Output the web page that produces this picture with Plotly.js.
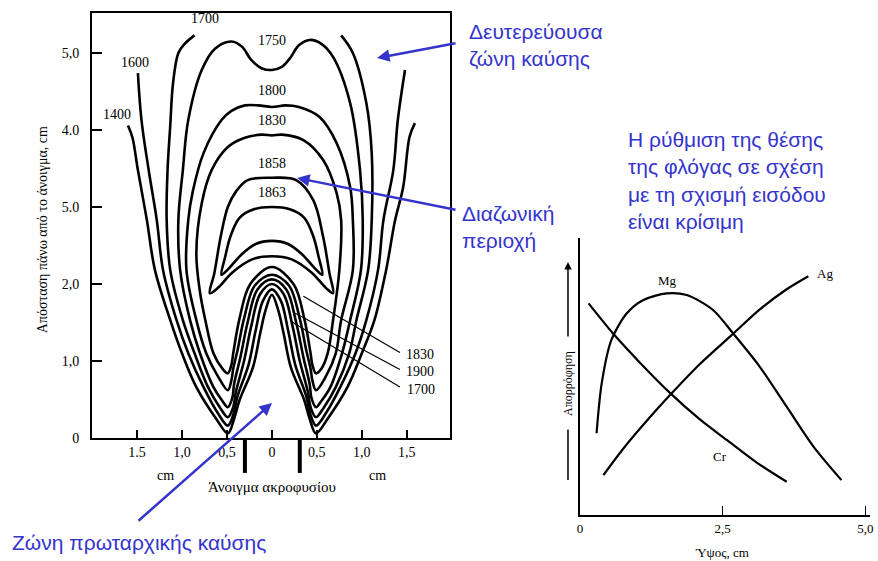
<!DOCTYPE html>
<html>
<head>
<meta charset="utf-8">
<script src="https://cdn.plot.ly/plotly-3.0.1.min.js"></script>
<style>html,body{margin:0;padding:0;background:#fff;}</style>
</head>
<body>
<div id="chart" style="width:878px;height:561px;"></div>
<script>
// ---------- Left chart: temperature contours (x: cm from slot centre, y: cm above slot) ----------
const c1400X = [-1.60,-1.55,-1.49,-1.39,-1.30,-1.13,-1.00,-0.84,-0.62,-0.49,-0.42,-0.36,-0.21,-0.13,-0.07,0,0.07,0.13,0.21,0.36,0.42,0.49,0.62,0.84,1.00,1.14,1.27,1.37,1.46,1.53,1.59];
const c1400Y = [4.06,3.90,3.48,2.83,2.18,1.53,1.10,0.66,0.25,0.06,0.25,0.49,0.92,1.36,1.66,1.86,1.66,1.36,0.92,0.49,0.25,0.06,0.25,0.66,1.10,1.53,2.18,2.83,3.26,3.91,4.09];

const c1600X = [-1.49,-1.45,-1.37,-1.28,-1.21,-1.06,-0.93,-0.76,-0.60,-0.49,-0.43,-0.38,-0.26,-0.18,-0.10,0,0.10,0.18,0.26,0.38,0.43,0.49,0.60,0.76,0.93,1.05,1.18,1.24,1.35,1.40,1.48];
const c1600Y = [4.74,4.13,3.48,2.83,2.18,1.53,1.10,0.66,0.32,0.16,0.30,0.55,0.95,1.40,1.78,1.93,1.78,1.40,0.95,0.55,0.30,0.16,0.32,0.66,1.10,1.53,2.18,2.83,3.48,4.13,4.78];

const c1700X = [-0.86,-0.97,-1.04,-1.10,-1.13,-1.16,-1.17,-1.13,-0.99,-0.86,-0.71,-0.58,-0.49,-0.43,-0.40,-0.31,-0.23,-0.13,0,0.13,0.23,0.31,0.40,0.43,0.49,0.58,0.71,0.86,0.94,1.07,1.11,1.11,1.05,0.90,0.77];
const c1700Y = [5.23,5.12,5.00,4.60,4.06,3.48,2.83,2.18,1.53,1.10,0.66,0.40,0.27,0.40,0.60,1.00,1.45,1.87,2.00,1.87,1.45,1.00,0.60,0.40,0.27,0.40,0.66,1.10,1.53,2.18,2.83,3.70,4.35,5.00,5.23];

const c1750X = [0,-0.11,-0.23,-0.33,-0.45,-0.63,-0.78,-0.93,-0.99,-1.04,-1.02,-0.91,-0.80,-0.65,-0.55,-0.49,-0.44,-0.42,-0.35,-0.27,-0.16,0,0.16,0.27,0.35,0.42,0.44,0.49,0.55,0.65,0.78,0.87,0.99,1.01,0.98,0.87,0.68,0.55,0.42,0.30,0.20,0.11,0];
const c1750Y = [4.78,4.80,4.91,5.08,5.15,5.06,4.78,4.13,3.48,2.83,2.18,1.53,1.10,0.66,0.48,0.40,0.52,0.70,1.05,1.50,1.93,2.06,1.93,1.50,1.05,0.70,0.52,0.40,0.48,0.66,1.10,1.53,2.18,2.83,3.48,4.35,4.95,5.12,5.17,5.10,4.93,4.82,4.78];

const c1800X = [0,-0.15,-0.30,-0.45,-0.56,-0.76,-0.88,-0.93,-0.95,-0.84,-0.73,-0.60,-0.49,-0.45,-0.43,-0.38,-0.31,-0.19,0,0.19,0.31,0.38,0.43,0.45,0.49,0.60,0.71,0.77,0.90,0.90,0.87,0.72,0.53,0.30,0.15,0];
const c1800Y = [4.30,4.32,4.32,4.25,4.13,3.70,3.20,2.83,2.18,1.53,1.10,0.80,0.62,0.75,0.90,1.15,1.55,1.98,2.12,1.98,1.55,1.15,0.90,0.75,0.62,0.80,1.10,1.53,2.18,2.83,3.26,3.83,4.17,4.30,4.32,4.30];

const c1830X = [0,-0.11,-0.30,-0.49,-0.67,-0.78,-0.84,-0.80,-0.74,-0.65,-0.55,-0.49,-0.45,-0.43,-0.36,-0.24,0,0.24,0.36,0.43,0.45,0.49,0.55,0.62,0.68,0.75,0.77,0.72,0.57,0.35,0.11,0];
const c1830Y = [3.93,3.94,3.90,3.78,3.48,3.05,2.40,1.90,1.53,1.10,0.90,0.84,0.95,1.10,1.55,2.00,2.22,2.00,1.55,1.10,0.95,0.84,0.90,1.10,1.53,2.18,2.83,3.18,3.61,3.87,3.94,3.93];

const c1858X = [0,-0.27,-0.40,-0.49,-0.57,-0.64,-0.69,-0.60,-0.44,-0.22,0,0.22,0.44,0.60,0.68,0.64,0.57,0.46,0.27,0];
const c1858Y = [3.38,3.35,3.20,3.00,2.61,2.14,1.88,1.95,2.15,2.32,2.36,2.32,2.15,1.95,1.88,2.14,2.61,3.09,3.35,3.38];

const c1863X = [0,-0.20,-0.36,-0.46,-0.52,-0.56,-0.48,-0.34,-0.18,0,0.18,0.34,0.48,0.56,0.52,0.46,0.36,0.20,0];
const c1863Y = [3.00,2.97,2.86,2.62,2.35,2.12,2.20,2.38,2.52,2.56,2.52,2.38,2.20,2.12,2.35,2.62,2.86,2.97,3.00];

const contourX = [c1400X, c1600X, c1700X, c1750X, c1800X, c1830X, c1858X, c1863X];
const contourY = [c1400Y, c1600Y, c1700Y, c1750Y, c1800Y, c1830Y, c1858Y, c1863Y];

// contour labels
const labelText = ['1400','1600','1700','1750','1800','1830','1858','1863'];
const labelX    = [-1.72, -1.52, -0.74, 0, 0, 0, 0, 0];
const labelY    = [4.20, 4.88, 5.45, 5.16, 4.52, 4.12, 3.57, 3.19];

// labels with leader lines (right side)
const leaderText = ['1830','1900','1700'];
const leaderLabX = [1.47, 1.47, 1.48];
const leaderLabY = [1.08, 0.86, 0.63];
const leaderFromX = [1.44, 1.44, 1.44];
const leaderFromY = [1.10, 0.88, 0.65];
const leaderToX = [0.35, 0.26, 0.22];
const leaderToY = [1.84, 1.62, 1.51];

// axis ticks
const xTickVals = [-1.5,-1.0,-0.5,0,0.5,1.0,1.5];
const xTickText = ['1.5','1,0','0,5','0','0,5','1,0','1,5'];
const yTickVals = [0,1,2,3,4,5];
const yTickText = ['0','1,0','2,0','5.0','4.0','5,0'];
const slotEdges = [-0.30, 0.31];

// ---------- Right chart: absorbance vs height ----------
const mgX = [0.29,0.38,0.55,0.82,1.11,1.52,1.87,2.33,2.68,3.15,3.62,4.09,4.58];
const mgY = [2.95,4.75,6.32,7.28,7.76,8.00,7.94,7.40,6.56,5.35,3.91,2.47,1.26];
const agX = [0.41,0.76,1.17,1.61,2.10,2.66,3.15,3.62,4.00];
const agY = [1.44,2.40,3.40,4.40,5.45,6.50,7.42,8.15,8.62];
const crX = [0.15,0.58,1.05,1.58,2.10,2.57,3.09,3.62];
const crY = [7.64,6.55,5.50,4.40,3.45,2.71,1.90,1.20];
const seriesNames = ['Mg','Ag','Cr'];
const seriesLabX = [1.54, 4.30, 2.45];
const seriesLabY = [8.45, 8.70, 2.10];
const x2TickVals = [0, 2.5, 5.0];
const x2TickText = ['0','2,5','5,0'];

// ---------- Build ----------
const serif = 'Liberation Serif, Times New Roman, serif';
const sans = 'Liberation Sans, Arial, sans-serif';
const blue = '#3434cc';

const traces = [];
for (let i = 0; i < contourX.length; i++) {
  traces.push({x: contourX[i], y: contourY[i], type: 'scatter', mode: 'lines',
    line: {color: '#000', width: 2.6, shape: 'spline', smoothing: 1},
    xaxis: 'x', yaxis: 'y', hoverinfo: 'skip'});
}
[[mgX, mgY], [agX, agY], [crX, crY]].forEach(function(s){
  traces.push({x: s[0], y: s[1], type: 'scatter', mode: 'lines',
    line: {color: '#000', width: 2.2, shape: 'spline', smoothing: 0.8},
    xaxis: 'x2', yaxis: 'y2', hoverinfo: 'skip'});
});

const annotations = [];
labelText.forEach(function(t, i){
  annotations.push({text: t, x: labelX[i], y: labelY[i], xref: 'x', yref: 'y', showarrow: false,
    font: {family: serif, size: 14, color: '#000'}});
});
leaderText.forEach(function(t, i){
  annotations.push({text: t, x: leaderLabX[i], y: leaderLabY[i], xref: 'x', yref: 'y', showarrow: false,
    xanchor: 'left', yanchor: 'middle', font: {family: serif, size: 14, color: '#000'}});
  annotations.push({text: '', x: leaderToX[i], y: leaderToY[i], xref: 'x', yref: 'y',
    ax: leaderFromX[i], ay: leaderFromY[i], axref: 'x', ayref: 'y', showarrow: true,
    arrowhead: 0, arrowwidth: 1.2, arrowcolor: '#000', standoff: 0, startstandoff: 0});
});
seriesNames.forEach(function(t, i){
  annotations.push({text: t, x: seriesLabX[i], y: seriesLabY[i], xref: 'x2', yref: 'y2', showarrow: false,
    yanchor: 'middle', font: {family: serif, size: 13, color: '#000'}});
});

// axis titles / decorations of the scanned figure
annotations.push({text: 'Απόσταση πάνω από το άνοιγμα, cm', x: 0.048, y: 0.59, xref: 'paper', yref: 'paper',
  textangle: -90, showarrow: false, xanchor: 'center', yanchor: 'middle',
  font: {family: serif, size: 14, color: '#000'}});
annotations.push({text: 'Άνοιγμα ακροφυσίου', x: 0.3098, y: 0.132, xref: 'paper', yref: 'paper',
  showarrow: false, xanchor: 'center', yanchor: 'middle', font: {family: serif, size: 15, color: '#000'}});
annotations.push({text: 'cm', x: 0.188, y: 0.153, xref: 'paper', yref: 'paper', showarrow: false,
  xanchor: 'center', yanchor: 'middle', font: {family: serif, size: 14, color: '#000'}});
annotations.push({text: 'cm', x: 0.4305, y: 0.153, xref: 'paper', yref: 'paper', showarrow: false,
  xanchor: 'center', yanchor: 'middle', font: {family: serif, size: 14, color: '#000'}});
annotations.push({text: 'Ύψος, cm', x: 0.8223, y: 0.0143, xref: 'paper', yref: 'paper', showarrow: false,
  xanchor: 'center', yanchor: 'middle', font: {family: serif, size: 13, color: '#000'}});
annotations.push({text: 'Απορρόφηση', x: 0.6469, y: 0.3173, xref: 'paper', yref: 'paper', textangle: -90,
  showarrow: false, xanchor: 'center', yanchor: 'middle', font: {family: serif, size: 12, color: '#000'}});
annotations.push({text: '', x: 0.6469, y: 0.533, xref: 'paper', yref: 'paper', ax: 0, ay: 76,
  showarrow: true, arrowhead: 2, arrowsize: 1, arrowwidth: 1.5, arrowcolor: '#000'});
annotations.push({text: '', x: 0.6469, y: 0.1444, xref: 'paper', yref: 'paper', ax: 0, ay: -52,
  showarrow: true, arrowhead: 0, arrowwidth: 1.5, arrowcolor: '#000'});

// blue explanatory texts
const blueFont = {family: sans, size: 21, color: blue};
annotations.push({text: 'Δευτερεύουσα<br>ζώνη καύσης', x: 0.5319, y: 0.9198, xref: 'paper', yref: 'paper',
  xanchor: 'left', yanchor: 'middle', align: 'left', showarrow: false, font: blueFont});
annotations.push({text: 'Διαζωνική<br>περιοχή', x: 0.5239, y: 0.5954, xref: 'paper', yref: 'paper',
  xanchor: 'left', yanchor: 'middle', align: 'left', showarrow: false, font: blueFont});
annotations.push({text: 'Ζώνη πρωταρχικής καύσης', x: 0.0114, y: 0.0321, xref: 'paper', yref: 'paper',
  xanchor: 'left', yanchor: 'middle', align: 'left', showarrow: false, font: blueFont});
annotations.push({text: 'Η ρύθμιση της θέσης<br>της φλόγας σε σχέση<br>με τη σχισμή εισόδου<br>είναι κρίσιμη',
  x: 0.713, y: 0.6783, xref: 'paper', yref: 'paper', xanchor: 'left', yanchor: 'middle', align: 'left',
  showarrow: false, font: blueFont});
// blue arrows
annotations.push({text: '', x: 0.4294, y: 0.8966, xref: 'paper', yref: 'paper', ax: 80, ay: -15,
  showarrow: true, arrowhead: 2, arrowsize: 1, arrowwidth: 2.5, arrowcolor: blue, standoff: 0});
annotations.push({text: '', x: 0.3383, y: 0.6827, xref: 'paper', yref: 'paper', ax: 160, ay: 32,
  showarrow: true, arrowhead: 2, arrowsize: 1, arrowwidth: 2.5, arrowcolor: blue, standoff: 0});
annotations.push({text: '', x: 0.3098, y: 0.2816, xref: 'paper', yref: 'paper', ax: -135, ay: 119,
  showarrow: true, arrowhead: 2, arrowsize: 1, arrowwidth: 2.5, arrowcolor: blue, standoff: 0});

const shapes = slotEdges.map(function(xv){
  return {type: 'line', xref: 'x', yref: 'paper', x0: xv, x1: xv, y0: 0.2193, y1: 0.157,
    line: {color: '#000', width: 4}};
});

const tickFont = {family: serif, size: 14, color: '#000'};
const layout = {
  width: 878, height: 561,
  margin: {l: 0, r: 0, t: 0, b: 0},
  paper_bgcolor: '#fff', plot_bgcolor: '#fff',
  showlegend: false,
  xaxis: {domain: [0.1048, 0.5125], range: [-2, 1.98], anchor: 'y',
    tickvals: xTickVals, ticktext: xTickText, ticks: 'inside', ticklen: 8, tickwidth: 2, tickcolor: '#000',
    showline: true, linewidth: 2, linecolor: '#000', mirror: true, showgrid: false, zeroline: false,
    tickfont: tickFont, ticklabelstandoff: 0},
  yaxis: {domain: [0.2193, 0.9768], range: [0, 5.52], anchor: 'x',
    tickvals: yTickVals, ticktext: yTickText, ticks: 'inside', ticklen: 10, tickwidth: 2, tickcolor: '#000',
    showline: true, linewidth: 2, linecolor: '#000', mirror: true, showgrid: false, zeroline: false,
    tickfont: tickFont, ticklabelstandoff: 8},
  xaxis2: {domain: [0.6606, 0.9909], range: [0, 5.08], anchor: 'y2',
    tickvals: x2TickVals, ticktext: x2TickText, ticks: 'inside', ticklen: 9, tickwidth: 1.5, tickcolor: '#000',
    showline: true, linewidth: 2, linecolor: '#000', showgrid: false, zeroline: false,
    tickfont: {family: serif, size: 13, color: '#000'}},
  yaxis2: {domain: [0.082, 0.5758], range: [0, 10], anchor: 'x2',
    showticklabels: false, ticks: '', showline: true, linewidth: 2, linecolor: '#000',
    showgrid: false, zeroline: false},
  annotations: annotations,
  shapes: shapes
};

Plotly.newPlot('chart', traces, layout, {staticPlot: true, displayModeBar: false});
</script>
</body>
</html>
